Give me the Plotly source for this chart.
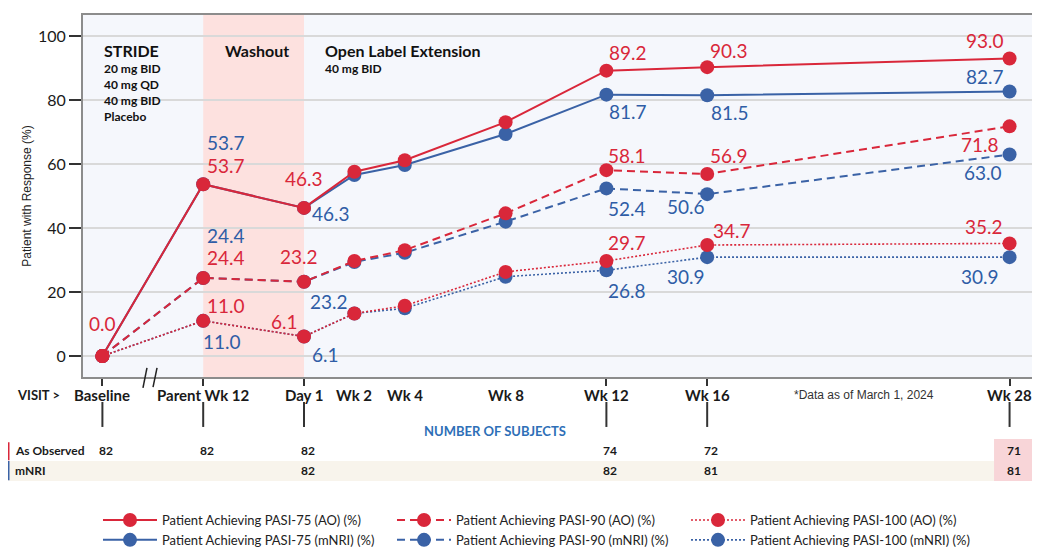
import plotly.graph_objects as go

# ---------------- data ----------------
visits = ["Baseline", "Parent Wk 12", "Day 1", "Wk 2", "Wk 4", "Wk 8", "Wk 12", "Wk 16", "Wk 28"]
visit_week = [-8, -4, 0, 2, 4, 8, 12, 16, 28]

pasi75_ao = [0.0, 53.7, 46.3, 57.6, 61.2, 73.1, 89.2, 90.3, 93.0]
pasi75_mnri = [0.0, 53.7, 46.3, 56.6, 59.7, 69.4, 81.7, 81.5, 82.7]
pasi90_ao = [0.0, 24.4, 23.2, 29.7, 33.1, 44.6, 58.1, 56.9, 71.8]
pasi90_mnri = [0.0, 24.4, 23.2, 29.4, 32.3, 42.0, 52.4, 50.6, 63.0]
pasi100_ao = [0.0, 11.0, 6.1, 13.3, 15.7, 26.3, 29.7, 34.7, 35.2]
pasi100_mnri = [0.0, 11.0, 6.1, 13.3, 14.9, 24.8, 26.8, 30.9, 30.9]

n_observed = [82, 82, 82, None, None, None, 74, 72, 71]
n_mnri = [None, None, 82, None, None, None, 82, 81, 81]

tick_weeks = [-8, -4, 0, 12, 16, 28]

# ---------------- styles ----------------
RED = "#d9273a"
BLUE = "#3a62a6"
LBLUE = "#2f5da6"
FONT = "Lato"

# label offsets (px): index -> (dx, dy_up)
series = [
    dict(name="Patient Achieving PASI-75 (mNRI) (%)", y=pasi75_mnri, color=BLUE, dash="solid", width=2, rank=4,
         labels={1: (23, 42), 2: (27, -6), 6: (22, -17), 7: (23, -17), 8: (-25, 15)}),
    dict(name="Patient Achieving PASI-90 (mNRI) (%)", y=pasi90_mnri, color=BLUE, dash="8px,5px", width=2, rank=5,
         labels={1: (23, 42), 2: (25, -20), 6: (21, -20), 7: (-21, -12), 8: (-27, -18)}),
    dict(name="Patient Achieving PASI-100 (mNRI) (%)", y=pasi100_mnri, color=BLUE, dash="2px,2px", width=1.6, rank=6,
         labels={1: (19, -21), 2: (21, -18), 6: (21, -20), 7: (-21, -19), 8: (-30, -19)}),
    dict(name="Patient Achieving PASI-75 (AO) (%)", y=pasi75_ao, color=RED, dash="solid", width=2, rank=1,
         labels={0: (0, 33), 1: (23, 19), 2: (0, 29), 6: (22, 18), 7: (22, 17), 8: (-25, 18)}),
    dict(name="Patient Achieving PASI-90 (AO) (%)", y=pasi90_ao, color=RED, dash="8px,5px", width=2, rank=2,
         labels={1: (23, 20), 2: (-5, 25), 6: (21, 15), 7: (22, 18), 8: (-30, -18)}),
    dict(name="Patient Achieving PASI-100 (AO) (%)", y=pasi100_ao, color=RED, dash="2px,2px", width=1.6, rank=3,
         labels={1: (23, 15), 2: (-20, 15), 6: (21, 19), 7: (25, 15), 8: (-26, 17)}),
]

fig = go.Figure()
annotations = []

for s in series:
    fig.add_trace(go.Scatter(
        x=visit_week, y=s["y"], name=s["name"], mode="lines+markers",
        line=dict(color=s["color"], width=s["width"], dash=s["dash"]),
        marker=dict(color=s["color"], size=14, line=dict(width=0)),
        legendrank=s["rank"], hoverinfo="x+y",
    ))
    lc = LBLUE if s["color"] == BLUE else RED
    for i, (dx, dy) in s["labels"].items():
        annotations.append(dict(
            x=visit_week[i], y=s["y"][i], xref="x", yref="y",
            text=f"{s['y'][i]:.1f}", showarrow=False,
            xshift=dx, yshift=dy, xanchor="center", yanchor="middle",
            font=dict(family=FONT, size=19, color=lc),
        ))

# x labels (below plot)
for w, lab in zip(visit_week, visits):
    annotations.append(dict(
        x=w, y=-0.05, xref="x", yref="paper", text=f"<b>{lab}</b>", showarrow=False,
        xanchor="center", yanchor="middle", font=dict(family=FONT, size=15, color="#1a1a1a"),
    ))
annotations.append(dict(x=-0.072, y=-0.05, xref="paper", yref="paper", text="<b>VISIT ></b>",
                        showarrow=False, xanchor="left", yanchor="middle",
                        font=dict(family=FONT, size=13, color="#1a1a1a")))
annotations.append(dict(x=0.823, y=-0.05, xref="paper", yref="paper", text="*Data as of March 1, 2024",
                        showarrow=False, xanchor="center", yanchor="middle",
                        font=dict(family="Liberation Sans", size=12, color="#333333")))
annotations.append(dict(x=0.434, y=-0.149, xref="paper", yref="paper", text="<b>NUMBER OF SUBJECTS</b>",
                        showarrow=False, xanchor="center", yanchor="middle",
                        font=dict(family=FONT, size=13, color="#2e6fb7")))

# table
row_y = [-0.2017, -0.257]
annotations.append(dict(x=-0.0738, y=row_y[0], xref="paper", yref="paper", text="<b>As Observed</b>",
                        showarrow=False, xanchor="left", yanchor="middle",
                        font=dict(family=FONT, size=12, color="#1a1a1a")))
annotations.append(dict(x=-0.0738, y=row_y[1], xref="paper", yref="paper", text="<b>mNRI</b>",
                        showarrow=False, xanchor="left", yanchor="middle",
                        font=dict(family=FONT, size=12, color="#1a1a1a")))
for row, vals in zip(row_y, [n_observed, n_mnri]):
    for w, v in zip(visit_week, vals):
        if v is None:
            continue
        annotations.append(dict(x=w, y=row, xref="x", yref="paper", text=f"<b>{v}</b>", showarrow=False,
                                xanchor="center", yanchor="middle", xshift=4,
                                font=dict(family=FONT, size=12, color="#1a1a1a")))

# top texts
annotations += [
    dict(x=0.02, y=0.9006, xref="paper", yref="paper", text="<b>STRIDE</b>", showarrow=False,
         xanchor="left", yanchor="middle", font=dict(family=FONT, size=16, color="#111")),
    dict(x=-2, y=0.9006, xref="x", yref="paper", text="<b>Washout</b>", showarrow=False, xshift=3,
         xanchor="center", yanchor="middle", font=dict(family=FONT, size=16, color="#111")),
    dict(x=0.2529, y=0.9006, xref="paper", yref="paper", text="<b>Open Label Extension</b>", showarrow=False,
         xanchor="left", yanchor="middle", font=dict(family=FONT, size=16, color="#111")),
    dict(x=0.2529, y=(377 - 69) / 362, xref="paper", yref="paper", text="<b>40 mg BID</b>", showarrow=False,
         xanchor="left", yanchor="middle", font=dict(family=FONT, size=12, color="#111")),
]
for k, t in enumerate(["20 mg BID", "40 mg QD", "40 mg BID", "Placebo"]):
    annotations.append(dict(x=0.02, y=(377 - (69 + 16 * k)) / 362, xref="paper", yref="paper",
                            text=f"<b>{t}</b>", showarrow=False, xanchor="left", yanchor="middle",
                            font=dict(family=FONT, size=12, color="#111")))

shapes = [
    # washout band
    dict(type="rect", xref="x", yref="paper", x0=-4, x1=0, y0=0, y1=1,
         fillcolor="#fde1df", line=dict(width=0), layer="below"),
    # break marks
    dict(type="line", xref="paper", yref="paper", x0=0.0632, x1=0.0674, y0=-0.030, y1=0.025,
         line=dict(color="#222", width=1.5)),
    dict(type="line", xref="paper", yref="paper", x0=0.0738, x1=0.078, y0=-0.028, y1=0.025,
         line=dict(color="#222", width=1.5)),
    # table backgrounds
    dict(type="rect", xref="paper", yref="paper", x0=-0.079, x1=1.0, y0=-0.287, y1=-0.232,
         fillcolor="#f8f4ec", line=dict(width=0)),
    dict(type="rect", xref="paper", yref="paper", x0=0.960, x1=1.0, y0=-0.287, y1=-0.171,
         fillcolor="#f8d5d8", line=dict(width=0)),
    dict(type="line", xref="paper", yref="paper", x0=-0.0785, x1=-0.0785, y0=-0.18, y1=-0.230,
         line=dict(color=RED, width=2)),
    dict(type="line", xref="paper", yref="paper", x0=-0.0785, x1=-0.0785, y0=-0.232, y1=-0.285,
         line=dict(color=BLUE, width=2)),
]
for w in tick_weeks:
    shapes.append(dict(type="line", xref="x", yref="paper", x0=w, x1=w, y0=-0.069, y1=-0.138,
                       line=dict(color="#333", width=2)))

# the page body has an 8px margin, so the figure is 8px smaller and margins shifted
fig.update_layout(
    width=1032, height=540,
    margin=dict(l=75, r=8, t=7, b=171, autoexpand=False),
    paper_bgcolor="white", plot_bgcolor="#f5f7fc",
    font=dict(family=FONT, color="#222"),
    annotations=annotations, shapes=shapes,
    showlegend=True,
    legend=dict(orientation="h", x=0.0158, y=-0.3536, xanchor="left", yanchor="top",
                entrywidth=225, entrywidthmode="pixels", itemwidth=54,
                font=dict(family=FONT, size=13, color="#222"), bgcolor="rgba(0,0,0,0)",
                tracegroupgap=0, traceorder="normal"),
    xaxis=dict(range=[-8.77, 28.89], showgrid=False, zeroline=False,
               tickvals=tick_weeks, showticklabels=False, ticks="outside", ticklen=7,
               tickwidth=2, tickcolor="#333", automargin=False,
               showline=True, linecolor="#8c8c8c", linewidth=2, mirror=True),
    yaxis=dict(range=[-6.56, 106.6], tickvals=[0, 20, 40, 60, 80, 100], ticks="outside",
               ticklen=12, tickwidth=2, tickcolor="#333", zeroline=False, automargin=False,
               showgrid=True, gridcolor="#d9d9d9", gridwidth=1.5,
               tickfont=dict(family=FONT, size=16, color="#1a1a1a"),
               showline=True, linecolor="#8c8c8c", linewidth=2, mirror=True,
               title=dict(text="Patient with Response (%)", standoff=4,
                          font=dict(family="Liberation Sans", size=12, color="#222"))),
)

fig.write_html("out.html")
